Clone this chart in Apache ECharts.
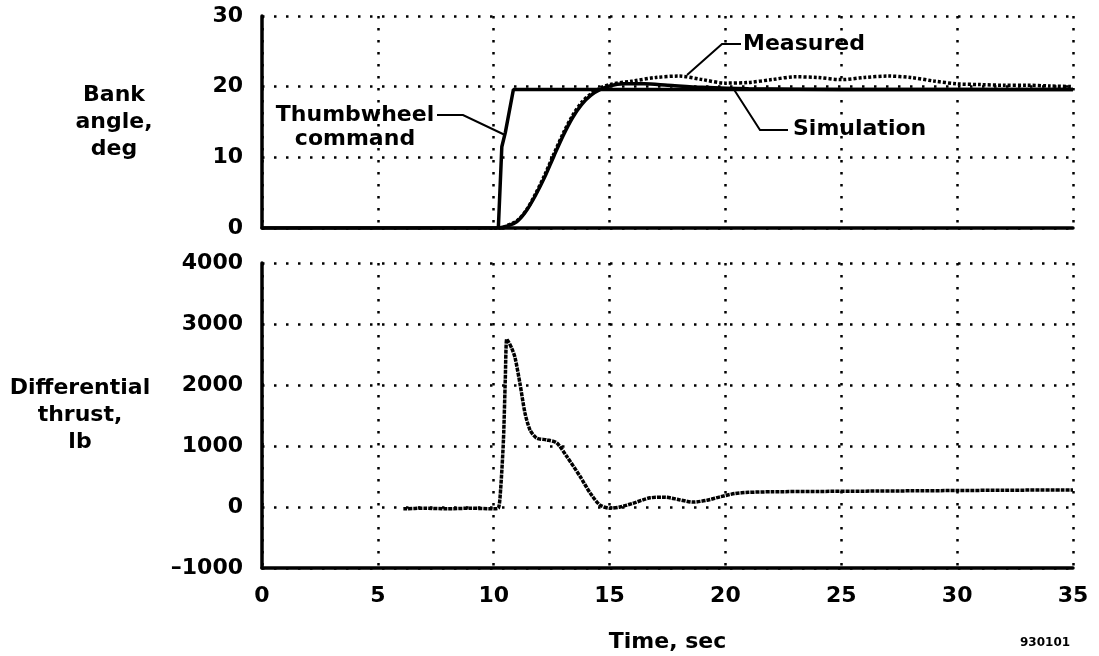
<!DOCTYPE html>
<html>
<head>
<meta charset="utf-8">
<script src="https://cdn.jsdelivr.net/npm/echarts@6/dist/echarts.min.js"></script>
<style>
  html, body { margin: 0; padding: 0; background: #fff; }
  #main { width: 1099px; height: 656px; }
</style>
</head>
<body>
<div id="main"></div>
<script>
// bank angle, deg
var cmdTime = [0, 10.2, 10.35, 10.5, 10.85, 35];
var cmdDeg = [0, 0, 11.5, 13.5, 19.6, 19.6];

var simTime = [10.2, 10.6, 11.0, 11.4, 11.8, 12.2, 12.6, 13.0, 13.4, 13.8, 14.2, 14.6, 15.0, 15.6, 16.5, 17.5, 19, 21, 25, 35];
var simDeg = [0, 0.3, 0.9, 2.4, 4.6, 7.2, 10.2, 13.1, 15.6, 17.5, 18.8, 19.6, 20.1, 20.4, 20.4, 20.2, 19.9, 19.7, 19.6, 19.6];

var measTime = [5.7, 6.5, 7.5, 8.5, 9.5, 10.2, 10.6, 11.0, 11.4, 11.8, 12.2, 12.6, 13.0, 13.4, 13.8, 14.2, 14.6, 15.0, 16, 17, 18, 19, 20, 21, 22, 23, 24, 25, 26, 27, 28, 29, 30, 31, 32, 33, 34, 35];
var measDeg = [-0.5, -0.6, -0.5, -0.6, -0.5, -0.3, 0.4, 1.0, 2.5, 4.8, 7.5, 10.5, 13.4, 15.9, 17.8, 19.0, 19.8, 20.3, 20.8, 21.3, 21.5, 21.0, 20.5, 20.6, 21.0, 21.4, 21.3, 21.0, 21.3, 21.5, 21.3, 20.8, 20.4, 20.3, 20.2, 20.2, 20.1, 20.0];

// differential thrust, lb
var thrustTime = [6.1, 7, 8, 9, 10, 10.2, 10.3, 10.42, 10.5, 10.56, 10.65, 10.78, 10.92, 11.13, 11.35, 11.57, 11.85, 12.29, 12.72, 13.15, 13.73, 14.16, 14.59, 15.02, 15.45, 16.0, 16.75, 17.4, 18.0, 18.6, 19.2, 19.8, 20.4, 21, 22, 24, 26, 28, 30, 32, 35];
var thrustLb = [-30, -20, -30, -20, -30, -20, 300, 1100, 2100, 2750, 2700, 2600, 2450, 2030, 1540, 1260, 1130, 1100, 1050, 830, 500, 230, 30, -20, 0, 60, 150, 160, 120, 80, 110, 170, 220, 240, 250, 255, 260, 265, 270, 275, 280];

var timeTicks = [0, 35, 5];   // min, max, step
var bankTicks = [0, 30, 10];
var thrustTicks = [-1000, 4000, 1000];

function pairs(xs, ys) {
  return xs.map(function (x, i) { return [x, ys[i]]; });
}

var FONT = "DejaVu Sans";
var dotted = { type: [2.5, 9.5], color: "#000", width: 2.5 };
var labelStyle = { color: "#000", fontFamily: FONT, fontWeight: "bold", fontSize: 22 };

function xAx(idx, showLabel) {
  return {
    gridIndex: idx, type: "value",
    min: timeTicks[0], max: timeTicks[1], interval: timeTicks[2],
    axisLine: { show: true, onZero: false, lineStyle: { color: "#000", width: 3.5 } },
    axisTick: { show: false },
    axisLabel: Object.assign({ show: showLabel, margin: 17 }, labelStyle),
    splitLine: { show: true, lineStyle: dotted },
    name: showLabel ? "Time, sec" : "",
    nameLocation: "middle", nameGap: 63,
    nameTextStyle: labelStyle
  };
}

function yAx(idx, ticks, name, gap) {
  return {
    gridIndex: idx, type: "value",
    min: ticks[0], max: ticks[1], interval: ticks[2],
    axisLine: { show: true, onZero: false, lineStyle: { color: "#000", width: 3.5 } },
    axisTick: { show: false },
    axisLabel: Object.assign({
      margin: 19,
      formatter: function (v) { return String(v).replace("-", "\u2013"); }
    }, labelStyle),
    splitLine: { show: true, lineStyle: dotted },
    name: name, nameLocation: "middle", nameRotate: 0, nameGap: gap,
    nameTextStyle: Object.assign({ align: "center", verticalAlign: "middle", lineHeight: 27 }, labelStyle)
  };
}

var option = {
  backgroundColor: "#fff",
  animation: false,
  grid: [
    { left: 262, right: 26, top: 16, height: 212 },
    { left: 262, right: 26, top: 263, height: 305 }
  ],
  xAxis: [xAx(0, false), xAx(1, true)],
  yAxis: [
    yAx(0, bankTicks, "Bank\nangle,\ndeg", 148),
    yAx(1, thrustTicks, "Differential\nthrust,\nlb", 182)
  ],
  series: [
    {
      name: "Thumbwheel command", type: "line", xAxisIndex: 0, yAxisIndex: 0,
      data: pairs(cmdTime, cmdDeg), showSymbol: false,
      lineStyle: { color: "#000", width: 3.5 }
    },
    {
      name: "Simulation", type: "line", xAxisIndex: 0, yAxisIndex: 0,
      data: pairs(simTime, simDeg), showSymbol: false, smooth: 0.3,
      lineStyle: { color: "#000", width: 3.5 }
    },
    {
      name: "Measured", type: "line", xAxisIndex: 0, yAxisIndex: 0,
      data: pairs(measTime, measDeg), showSymbol: false, smooth: 0.3,
      lineStyle: { color: "#000", width: 3.5, type: [3, 2] }
    },
    {
      name: "Differential thrust", type: "line", xAxisIndex: 1, yAxisIndex: 1,
      data: pairs(thrustTime, thrustLb), showSymbol: false, smooth: 0.25,
      lineStyle: { color: "#000", width: 3.5, type: [4, 1] }
    }
  ],
  graphic: [
    { type: "text", x: 355, y: 103, style: { text: "Thumbwheel\ncommand", fill: "#000", font: "bold 22px " + FONT, align: "center", lineHeight: 24 } },
    { type: "polyline", shape: { points: [[437, 115], [463, 115], [505, 135]] }, style: { stroke: "#000", lineWidth: 2, fill: null } },
    { type: "text", x: 743, y: 33, style: { text: "Measured", fill: "#000", font: "bold 22px " + FONT } },
    { type: "polyline", shape: { points: [[741, 44], [722, 44], [687, 75]] }, style: { stroke: "#000", lineWidth: 2, fill: null } },
    { type: "text", x: 793, y: 118, style: { text: "Simulation", fill: "#000", font: "bold 22px " + FONT } },
    { type: "polyline", shape: { points: [[788, 130], [760, 130], [733, 88]] }, style: { stroke: "#000", lineWidth: 2, fill: null } },
    { type: "text", x: 1020, y: 637, style: { text: "930101", fill: "#000", font: "bold 12px " + FONT } }
  ]
};

var myChart = echarts.init(document.getElementById("main"));
myChart.setOption(option);
window.addEventListener("resize", function () { myChart.resize(); });
</script>
</body>
</html>
